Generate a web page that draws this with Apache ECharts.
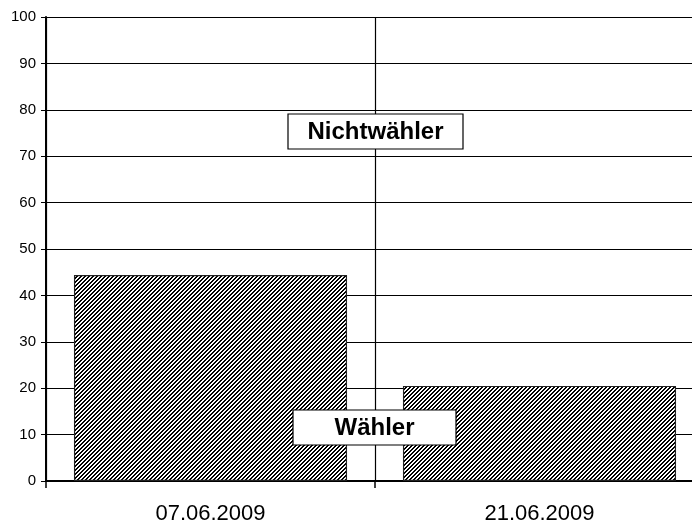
<!DOCTYPE html>
<html><head><meta charset="utf-8">
<script src="https://cdn.jsdelivr.net/npm/echarts@6/dist/echarts.min.js"></script>
<style>html,body{margin:0;padding:0;background:#fff}#c{width:692px;height:524px}</style>
</head><body><div id="c"></div>
<script>
const categories = ['07.06.2009', '21.06.2009'];
const waehler = [44.4, 20.5];
const yTicks = [0, 10, 20, 30, 40, 50, 60, 70, 80, 90, 100];
const labelTexts = ['Nichtwähler', 'Wähler'];

// hatch pattern
const pc = document.createElement('canvas');
pc.width = 4; pc.height = 4;
const pctx = pc.getContext('2d');
const img = pctx.createImageData(4, 4);
for (let y = 0; y < 4; y++) for (let x = 0; x < 4; x++) {
  const k = (x + y) % 4;
  const v = k < 2 ? 0 : 255;
  const i = (y * 4 + x) * 4;
  img.data[i] = v; img.data[i+1] = v; img.data[i+2] = v; img.data[i+3] = 255;
}
pctx.putImageData(img, 0, 0);

const chart = echarts.init(document.getElementById('c'), null, {renderer: 'canvas'});
const font = '"Liberation Sans", Arial, sans-serif';
chart.setOption({
  animation: false,
  grid: {left: 46, width: 658, top: 17, height: 464, outerBoundsMode: 'none', containLabel: false},
  xAxis: {
    type: 'category', data: categories, boundaryGap: true,
    axisLine: {lineStyle: {color: '#000', width: 2}},
    axisTick: {show: true, length: 7, lineStyle: {color: '#000', width: 1.5}},
    axisLabel: {color: '#000', fontFamily: font, fontSize: 22, margin: 22},
    splitLine: {show: true, lineStyle: {color: '#000', width: 1.2}}
  },
  yAxis: {
    type: 'value', min: 0, max: 100, interval: 10,
    axisLine: {show: true, lineStyle: {color: '#000', width: 2}},
    axisTick: {show: true, length: 5, lineStyle: {color: '#000', width: 1}},
    axisLabel: {color: '#000', fontFamily: font, fontSize: 15, margin: 10,
      formatter: v => yTicks.includes(v) ? String(v) : ''},
    splitLine: {show: true, lineStyle: {color: '#000', width: 1.2}}
  },
  series: [{
    type: 'bar', data: waehler, barCategoryGap: '17%',
    itemStyle: {color: {image: pc, repeat: 'repeat'}, borderColor: '#222', borderWidth: 1.2}
  }],
  graphic: [
    {type: 'rect', shape: {x: 288, y: 114, width: 175, height: 35},
     style: {fill: '#fff', stroke: '#000', lineWidth: 1.2}, z: 100},
    {type: 'text', z: 101,
     style: {text: labelTexts[0], x: 375.5, y: 132, textAlign: 'center', textVerticalAlign: 'middle',
       align: 'center', verticalAlign: 'middle', font: 'bold 24px ' + font, fill: '#000'}},
    {type: 'rect', shape: {x: 293, y: 410, width: 163, height: 35},
     style: {fill: '#fff', stroke: '#000', lineWidth: 1.2}, z: 100},
    {type: 'text', z: 101,
     style: {text: labelTexts[1], x: 374.5, y: 428, textAlign: 'center', textVerticalAlign: 'middle',
       align: 'center', verticalAlign: 'middle', font: 'bold 24px ' + font, fill: '#000'}}
  ]
});
</script></body></html>
